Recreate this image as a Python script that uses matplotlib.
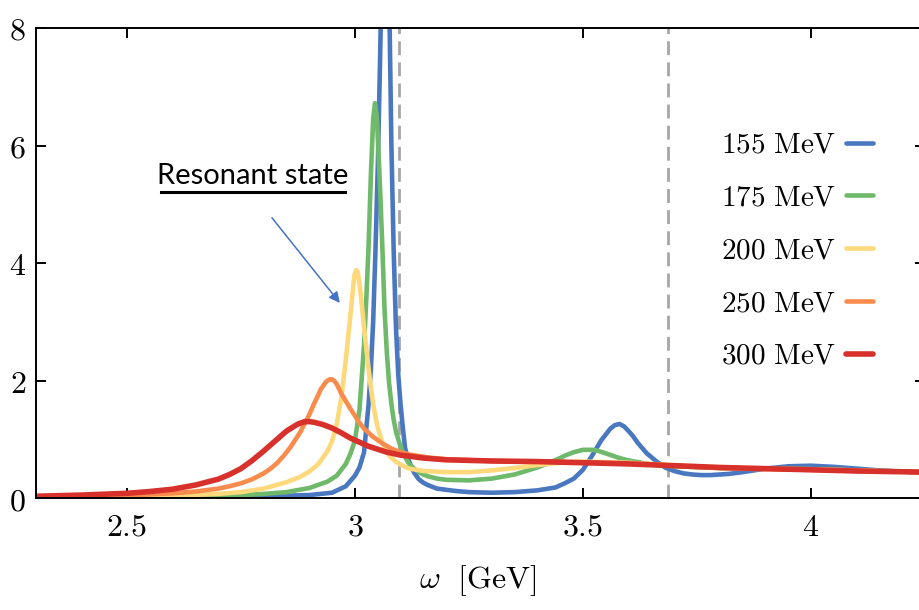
import matplotlib
matplotlib.use('Agg')
import matplotlib.pyplot as plt
from matplotlib.lines import Line2D

plt.rcParams['mathtext.fontset'] = 'cm'

# ---------------- data ----------------
labels = ['155 MeV', '175 MeV', '200 MeV', '250 MeV', '300 MeV']

x_155 = [2.30, 2.50, 2.70, 2.80, 2.90, 2.95, 2.98, 3.00, 3.01, 3.02, 3.03, 3.035,
         3.04, 3.045, 3.05, 3.055, 3.06, 3.065, 3.07, 3.075, 3.08, 3.085, 3.09,
         3.095, 3.10, 3.105, 3.11, 3.115, 3.12, 3.13, 3.14, 3.15, 3.16, 3.17, 3.18,
         3.20, 3.22, 3.25, 3.30, 3.35, 3.40, 3.44, 3.46, 3.48, 3.50, 3.52, 3.54,
         3.56, 3.57, 3.58, 3.59, 3.60, 3.61, 3.62, 3.63, 3.64, 3.66, 3.68, 3.70,
         3.72, 3.74, 3.76, 3.78, 3.82, 3.85, 3.90, 3.95, 4.00, 4.05, 4.10, 4.15, 4.25]
y_155 = [0.00, 0.005, 0.015, 0.03, 0.05, 0.09, 0.20, 0.38, 0.52, 0.78, 1.6, 2.2,
         3.0, 4.2, 5.6, 7.4, 9.5, 11.0, 10.8, 8.6, 6.0, 4.2, 2.9,
         2.1, 1.6, 1.2, 0.85, 0.70, 0.60, 0.43, 0.32, 0.26, 0.22, 0.19, 0.16,
         0.14, 0.12, 0.10, 0.09, 0.10, 0.13, 0.18, 0.25, 0.33, 0.48, 0.72, 0.98,
         1.18, 1.24, 1.26, 1.22, 1.14, 1.05, 0.94, 0.85, 0.76, 0.63, 0.52, 0.46,
         0.42, 0.40, 0.39, 0.39, 0.41, 0.44, 0.50, 0.54, 0.55, 0.53, 0.50, 0.47, 0.43]

x_175 = [2.30, 2.50, 2.70, 2.80, 2.85, 2.90, 2.94, 2.96, 2.98, 2.99, 3.00, 3.01,
         3.02, 3.025, 3.03, 3.035, 3.04, 3.044, 3.048, 3.055, 3.06, 3.065, 3.07,
         3.075, 3.08, 3.085, 3.09, 3.095, 3.10, 3.105, 3.11, 3.115, 3.12, 3.13,
         3.14, 3.15, 3.16, 3.18, 3.20, 3.25, 3.30, 3.35, 3.40, 3.42, 3.45, 3.46,
         3.48, 3.50, 3.52, 3.53, 3.55, 3.565, 3.58, 3.60, 3.65, 3.70,
         3.80, 3.90, 4.00, 4.10, 4.25]
y_175 = [0.00, 0.01, 0.03, 0.07, 0.10, 0.17, 0.28, 0.38, 0.58, 0.75, 0.98, 1.5,
         2.6, 3.4, 4.3, 5.5, 6.45, 6.72, 6.5, 5.3, 4.3, 3.2, 2.47,
         1.95, 1.6, 1.33, 1.13, 1.00, 0.88, 0.78, 0.70, 0.63, 0.57, 0.50,
         0.44, 0.40, 0.37, 0.33, 0.31, 0.30, 0.33, 0.40, 0.52, 0.58, 0.68, 0.72,
         0.78, 0.82, 0.82, 0.81, 0.76, 0.72, 0.68, 0.64, 0.57, 0.54,
         0.51, 0.50, 0.49, 0.47, 0.44]

x_200 = [2.30, 2.50, 2.60, 2.70, 2.75, 2.80, 2.85, 2.88, 2.90, 2.92, 2.94, 2.95,
         2.96, 2.97, 2.98, 2.99, 2.995, 2.999, 3.003, 3.006, 3.01, 3.015, 3.02,
         3.025, 3.03, 3.035, 3.04, 3.045, 3.05, 3.055, 3.06, 3.07, 3.08, 3.09,
         3.10, 3.11, 3.12, 3.135, 3.15, 3.20, 3.25, 3.30, 3.35,
         3.40, 3.45, 3.50, 3.60, 3.70, 3.80, 3.90, 4.00, 4.10, 4.25]
y_200 = [0.01, 0.02, 0.04, 0.07, 0.10, 0.16, 0.27, 0.36, 0.45, 0.58, 0.80, 0.97,
         1.25, 1.70, 2.35, 3.1, 3.5, 3.8, 3.88, 3.85, 3.65, 3.3, 2.9,
         2.55, 2.2, 1.88, 1.6, 1.38, 1.2, 1.07, 0.95, 0.78, 0.68, 0.62,
         0.57, 0.53, 0.50, 0.48, 0.46, 0.44, 0.44, 0.47, 0.51,
         0.56, 0.60, 0.62, 0.60, 0.56, 0.52, 0.50, 0.49, 0.47, 0.44]

x_250 = [2.30, 2.40, 2.50, 2.60, 2.65, 2.70, 2.725, 2.75, 2.775, 2.80, 2.815,
         2.83, 2.845, 2.86, 2.87, 2.88, 2.89, 2.90, 2.91, 2.92, 2.925, 2.935,
         2.94, 2.945, 2.95, 2.955, 2.96, 2.97, 2.98, 2.99, 3.00, 3.01, 3.02, 3.04,
         3.06, 3.08, 3.10, 3.12, 3.16, 3.20, 3.30, 3.40, 3.50, 3.60, 3.70, 3.80,
         3.90, 4.00, 4.10, 4.25]
y_250 = [0.01, 0.02, 0.04, 0.08, 0.11, 0.16, 0.20, 0.25, 0.32, 0.42, 0.50,
         0.60, 0.73, 0.88, 1.00, 1.12, 1.27, 1.42, 1.60, 1.76, 1.85, 1.96,
         2.00, 2.02, 2.02, 1.99, 1.94, 1.78, 1.65, 1.52, 1.40, 1.28, 1.18, 1.04,
         0.93, 0.84, 0.78, 0.74, 0.69, 0.66, 0.63, 0.62, 0.61, 0.59, 0.55, 0.51,
         0.49, 0.48, 0.46, 0.44]

x_300 = [2.30, 2.40, 2.50, 2.55, 2.60, 2.65, 2.70, 2.725, 2.75, 2.775, 2.80,
         2.825, 2.85, 2.875, 2.89, 2.90, 2.91, 2.93, 2.95, 2.97, 2.99, 3.01,
         3.03, 3.05, 3.07, 3.10, 3.15, 3.20, 3.30, 3.40, 3.50, 3.60, 3.70,
         3.80, 3.90, 4.00, 4.10, 4.25]
y_300 = [0.03, 0.05, 0.08, 0.11, 0.15, 0.22, 0.32, 0.40, 0.50, 0.64, 0.80,
         0.97, 1.14, 1.26, 1.30, 1.30, 1.29, 1.25, 1.19, 1.11, 1.02, 0.95,
         0.88, 0.83, 0.78, 0.73, 0.68, 0.65, 0.63, 0.62, 0.60, 0.58, 0.55,
         0.52, 0.50, 0.48, 0.46, 0.44]

thresholds = [3.097, 3.686]          # dashed vertical lines
xticks = [2.5, 3, 3.5, 4]
xtick_labels = ['2.5', '3', '3.5', '4']
yticks = [0, 2, 4, 6, 8]
ytick_labels = ['0', '2', '4', '6', '8']

series_x = [x_155, x_175, x_200, x_250, x_300]
series_y = [y_155, y_175, y_200, y_250, y_300]

# ---------------- style ----------------
colors = ['#4a78c0', '#6fb96a', '#fdd97c', '#f98b4c', '#d8302a']
widths = [3.3, 3.3, 3.3, 3.3, 4.0]

fig = plt.figure(figsize=(9.2, 6.1), dpi=100)
ax = fig.add_axes([0.0388, 0.1836, 0.9666, 0.7705])

for v in thresholds:
    ax.axvline(v, color='#a6a6a6', lw=2.0, ls=(0, (5, 2.6)), zorder=1)

for xs, ys, c, w, lab in zip(series_x, series_y, colors, widths, labels):
    ax.plot(xs, ys, color=c, lw=w, label=r'$\mathrm{' + lab.replace(' ', r'\ ') + '}$',
            zorder=2, solid_capstyle='round', solid_joinstyle='round')

ax.set_xlim(2.3, 4.25)
ax.set_ylim(0, 8)
ax.set_xticks(xticks)
ax.set_xticklabels(['$' + t + '$' for t in xtick_labels])
ax.set_yticks(yticks)
ax.set_yticklabels(['$' + t + '$' for t in ytick_labels])
ax.tick_params(axis='both', direction='in', length=7, width=1.4,
               top=True, right=True, labelsize=23, colors='black')
ax.tick_params(axis='x', pad=10)
ax.tick_params(axis='y', pad=7)
for sp in ax.spines.values():
    sp.set_linewidth(1.4)

ax.set_xlabel(r'$\omega\ \ [\mathrm{GeV}]$', fontsize=23)
ax.xaxis.set_label_coords(0.4975, -0.138)
ax.xaxis.label.set_va('top')

leg = ax.legend(loc='center right', bbox_to_anchor=(0.941, 0.527), frameon=False,
                markerfirst=False, handlelength=0.9, handletextpad=0.35,
                labelspacing=0.85, borderaxespad=0, borderpad=0, fontsize=21)

# annotation
fig.text(253 / 920, 1 - 184 / 610, 'Resonant state', ha='center', va='baseline',
         fontsize=21, family=['Lato', 'DejaVu Sans'], color='black')
fig.add_artist(Line2D([161 / 920, 345 / 920], [1 - 192 / 610, 1 - 192 / 610],
                      transform=fig.transFigure, lw=2.2, color='black'))
ax.annotate('', xy=(2.967, 3.32), xytext=(2.818, 4.77),
            arrowprops=dict(arrowstyle='-|>', color='#4472c4', lw=1.1,
                            mutation_scale=16, shrinkA=0, shrinkB=0))

fig.savefig('out.png', dpi=100)
